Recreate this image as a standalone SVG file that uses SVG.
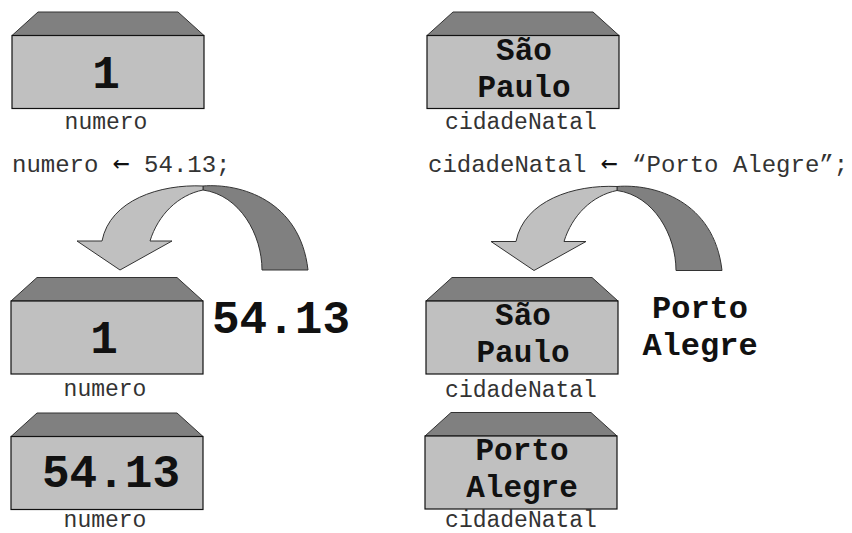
<svg xmlns="http://www.w3.org/2000/svg" width="852" height="533" viewBox="0 0 852 533">
<style>
.top{fill:#808080;stroke:#333;stroke-width:1}
.front{fill:#c0c0c0;stroke:#111;stroke-width:1.2}
.val{font-family:"Liberation Mono","Courier New",monospace;font-weight:bold;fill:#111;text-anchor:middle}
.lbl{font-family:"Liberation Mono","Courier New",monospace;font-size:23px;fill:#333;text-anchor:middle}
.code{font-family:"Liberation Mono","Courier New",monospace;font-size:24px;fill:#333}
.arr{font-family:"DejaVu Sans Mono",monospace;font-size:28px;fill:#111}
.light{fill:#c0c0c0;stroke:#333;stroke-width:1}
.dark{fill:#808080;stroke:#333;stroke-width:1}
</style>
<defs>
<g id="box">
<polygon class="top" points="26,0 166,0 192,23.5 0,23.5"/>
<rect class="front" x="0" y="23.5" width="192" height="73"/>
</g>
<g id="arrow">
<path class="dark" d="M203,186 C240,183 300,200 308,270 L262,270 C262,235 240,195 203,190 Z"/>
<path class="light" d="M203,186 C160,184 110,200 102,241 L77,241 L120,270 L172,241 L150,241 C158,215 178,195 203,190 Z"/>
</g>
</defs>

<g id="numero1">
<use href="#box" x="12" y="12"/>
<text class="val" x="106" y="88" font-size="46">1</text>
<text class="lbl" x="106" y="129">numero</text>
</g>

<g id="cidade1">
<use href="#box" x="427" y="12"/>
<text class="val" x="524" y="60" font-size="31">São</text>
<text class="val" x="524" y="97" font-size="31">Paulo</text>
<text class="lbl" x="521" y="129">cidadeNatal</text>
</g>

<g id="code1">
<text class="code" x="12" y="172">numero <tspan class="arr">←</tspan> 54.13;</text>
</g>
<g id="code2">
<text class="code" x="428" y="172">cidadeNatal <tspan class="arr">←</tspan> “Porto Alegre”;</text>
</g>

<g id="connectors">
<use href="#arrow"/>
<use href="#arrow" x="414" y="0.5"/>
</g>

<g id="numero2">
<use href="#box" x="11" y="277.5"/>
<text class="val" x="104" y="353" font-size="46">1</text>
<text class="lbl" x="105" y="396">numero</text>
</g>

<g id="novoValor1">
<text class="val" x="281" y="333" font-size="46">54.13</text>
</g>

<g id="cidade2">
<use href="#box" x="426" y="277.5"/>
<text class="val" x="523" y="325" font-size="31">São</text>
<text class="val" x="523" y="362" font-size="31">Paulo</text>
<text class="lbl" x="521" y="397">cidadeNatal</text>
</g>

<g id="novoValor2">
<text class="val" x="700" y="318" font-size="32">Porto</text>
<text class="val" x="700" y="355" font-size="32">Alegre</text>
</g>

<g id="numero3">
<use href="#box" x="11" y="413"/>
<text class="val" x="111" y="487" font-size="46">54.13</text>
<text class="lbl" x="105" y="527">numero</text>
</g>

<g id="cidade3">
<use href="#box" x="425" y="412.5"/>
<text class="val" x="522" y="460" font-size="31">Porto</text>
<text class="val" x="522" y="497" font-size="31">Alegre</text>
<text class="lbl" x="521" y="527">cidadeNatal</text>
</g>
</svg>
